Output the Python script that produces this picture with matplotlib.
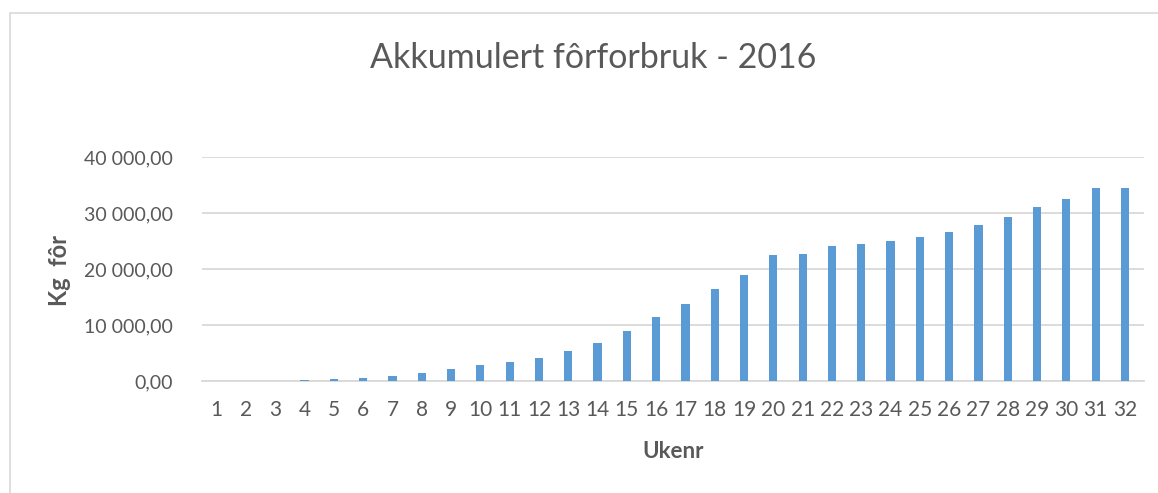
import matplotlib
matplotlib.use('Agg')
import matplotlib.pyplot as plt
from matplotlib.patches import Rectangle
from matplotlib.ticker import FuncFormatter

# week numbers and accumulated feed (kg)
weeks = list(range(1, 33))
feed_kg = [0, 10, 40, 180, 360, 600, 960, 1500, 2160, 2870, 3410, 4190, 5270,
           6840, 8920, 11460, 13690, 16370, 18930, 22560, 22740, 24050, 24520,
           25060, 25650, 26610, 27860, 29350, 31070, 32440, 34460, 34460]
y_ticks = [0, 10000, 20000, 30000, 40000]

title_txt = 'Akkumulert fôrforbruk - 2016'
xlabel_txt = 'Ukenr'
ylabel_txt = 'Kg  fôr'

bar_color = '#5B9BD5'
text_color = '#595959'
grid_color = '#D9D9D9'

plt.rcParams['font.family'] = ['Lato', 'DejaVu Sans']

W, H = 1158, 493
fig = plt.figure(figsize=(W / 100.0, H / 100.0), dpi=100)

# outer chart border like the spreadsheet chart frame
fig.patches.append(Rectangle((10.0 / W, -0.1), 1.2, (H - 13.0) / H + 0.1,
                             transform=fig.transFigure, fill=False,
                             edgecolor=grid_color, linewidth=1.2))

ax = fig.add_axes([202.0 / W, 1 - 381.0 / H, 942.0 / W, 224.0 / H])
ax.bar(weeks, feed_kg, width=0.28, color=bar_color, zorder=3)

ax.set_xlim(0.5, 32.65)
ax.set_ylim(0, 40000)
ax.set_yticks(y_ticks)
ax.yaxis.set_major_formatter(FuncFormatter(
    lambda v, p: '{:,.2f}'.format(v).replace(',', ' ').replace('.', ',')))
ax.set_xticks(weeks)
ax.set_xticklabels([str(w) for w in weeks])

ax.grid(axis='y', color=grid_color, linewidth=1.3, zorder=0)
for s in ['top', 'right', 'left']:
    ax.spines[s].set_visible(False)
ax.spines['bottom'].set_color(grid_color)
ax.spines['bottom'].set_linewidth(1.3)
ax.tick_params(axis='both', length=0, colors=text_color)
ax.tick_params(axis='x', pad=14, labelsize=15)
ax.tick_params(axis='y', pad=21, labelsize=14)

fig.text(593.0 / W, 1 - 58.0 / H, title_txt, ha='center', va='center',
         fontsize=24.5, color=text_color)
fig.text(673.0 / W, 1 - 452.0 / H, xlabel_txt, ha='center', va='center',
         fontsize=16, fontweight='bold', color=text_color)
fig.text(60.0 / W, 1 - 270.0 / H, ylabel_txt, ha='center', va='center',
         rotation=90, fontsize=17, fontweight='bold', color=text_color)

fig.savefig('out.png', dpi=100)
